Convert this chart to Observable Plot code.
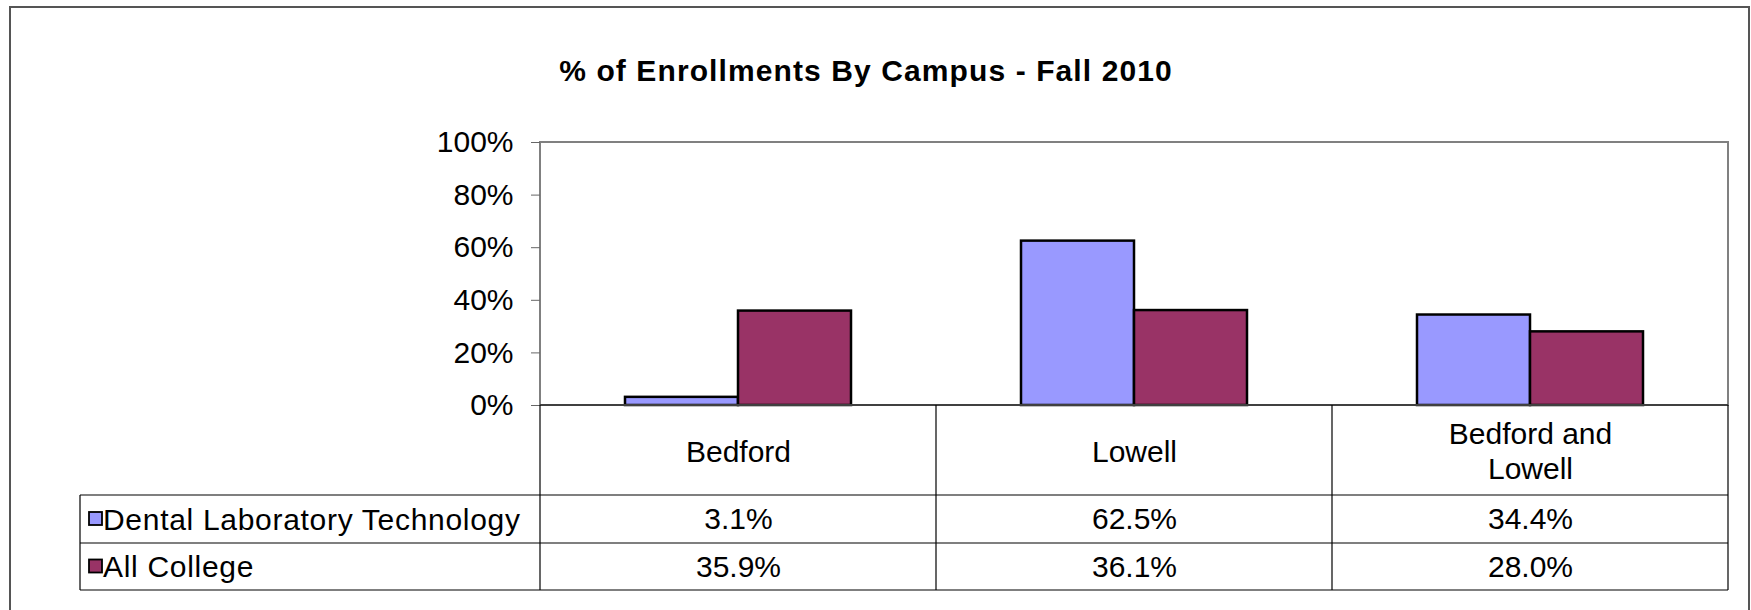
<!DOCTYPE html>
<html>
<head>
<meta charset="utf-8">
<script src="https://cdn.jsdelivr.net/npm/d3@7"></script>
<script src="https://cdn.jsdelivr.net/npm/@observablehq/plot@0.6"></script>
<style>
  html, body { margin: 0; padding: 0; background: #fff; }
  #page { position: relative; width: 1751px; height: 610px; overflow: hidden; font-family: "Liberation Sans", Arial, sans-serif; }
  #title { position: absolute; left: 0; top: 56px; width: 1732px; text-align: center; font-weight: bold; font-size: 30px; line-height: 30px; letter-spacing: 1.1px; color: #000; }
  #chart { position: absolute; left: 0; top: 100px; }
  #border { position: absolute; left: 9px; top: 6px; width: 1741px; height: 700px; border: 2px solid #555; box-sizing: border-box; pointer-events: none; z-index: 5; }
</style>
</head>
<body>
<div id="page">
  <div id="title"></div>
  <div id="chart"></div>
  <div id="border"></div>
</div>
<script>
// ---- data ----
const chartTitle = "% of Enrollments By Campus - Fall 2010";
const campuses = ["Bedford", "Lowell", "Bedford and Lowell"];
const campusLabels = ["Bedford", "Lowell", "Bedford and\nLowell"];
const series = ["Dental Laboratory Technology", "All College"];
const dentalLab = [3.1, 62.5, 34.4];
const allCollege = [35.9, 36.1, 28.0];
const yTicks = [0, 20, 40, 60, 80, 100];
const seriesColors = ["#9999ff", "#993366"];

const seriesValues = [dentalLab, allCollege];
const rows = campuses.flatMap((c, i) =>
  series.map((s, j) => ({campus: c, series: s, value: seriesValues[j][i]}))
);
const fmt = v => v.toFixed(1) + "%";
const FONT = "'Liberation Sans', Arial, sans-serif";

document.getElementById("title").textContent = chartTitle;

const plot = Plot.plot({
  width: 1751,
  height: 510,
  marginLeft: 540,
  marginRight: 23,
  marginTop: 42,
  marginBottom: 205,
  style: {fontFamily: FONT, fontSize: "30px", color: "#000", background: "none", overflow: "visible"},
  fx: {domain: campuses, padding: 0, axis: null},
  x: {domain: series, paddingInner: 0, paddingOuter: 0.75, axis: null},
  y: {domain: [0, 100], axis: null},
  color: {domain: series, range: seriesColors},
  marks: [
    Plot.axisY({ticks: yTicks, tickFormat: d => d + "%", tickSize: 9, tickPadding: 18,
                fontSize: 30, stroke: "#666", fill: "#000", label: null}),
    Plot.barY(rows, {fx: "campus", x: "series", y: "value", fill: "series",
                     stroke: "#000", strokeWidth: 2.5}),
    Plot.text(campuses, {fx: d => d, text: (d, i) => campusLabels[i], frameAnchor: "bottom",
                         dy: 45, lineAnchor: "middle", lineHeight: 1.15, fontSize: 30, fill: "#000"}),
    Plot.text(rows.filter(r => r.series === series[0]), {fx: "campus", text: d => fmt(d.value),
                         frameAnchor: "bottom", dy: 114, lineAnchor: "middle", fontSize: 30, fill: "#000"}),
    Plot.text(rows.filter(r => r.series === series[1]), {fx: "campus", text: d => fmt(d.value),
                         frameAnchor: "bottom", dy: 161.5, lineAnchor: "middle", fontSize: 30, fill: "#000"})
  ]
});

document.getElementById("chart").appendChild(plot);

// ---- frame, data table grid and legend keys, placed from Plot's scales ----
const fxS = plot.scale("fx"), yS = plot.scale("y"), colorS = plot.scale("color");
const [x0, x1] = fxS.range;
const yTop = yS.apply(100), yBase = yS.apply(0);
const headerBottom = yBase + 90;
const row1Bottom = headerBottom + 48;
const tableBottom = row1Bottom + 47;
const tableLeft = 80;

const svg = d3.select(plot);
const g = svg.insert("g", "g");
g.append("rect")
  .attr("x", x0).attr("y", yTop).attr("width", x1 - x0).attr("height", yBase - yTop)
  .attr("fill", "none").attr("stroke", "#808080").attr("stroke-width", 2);

const over = svg.append("g");
over.append("line").attr("x1", x0).attr("x2", x1).attr("y1", yBase).attr("y2", yBase)
  .attr("stroke", "#404040").attr("stroke-width", 2);

const edges = [x0, ...campuses.slice(1).map(c => fxS.apply(c)), x1];
edges.forEach(x => {
  over.append("line").attr("x1", x).attr("x2", x).attr("y1", yBase).attr("y2", tableBottom)
    .attr("stroke", "#000").attr("stroke-width", 1.2);
});
[headerBottom, row1Bottom, tableBottom].forEach(yy => {
  over.append("line").attr("x1", tableLeft).attr("x2", x1).attr("y1", yy).attr("y2", yy)
    .attr("stroke", "#000").attr("stroke-width", 1.2);
});
over.append("line").attr("x1", tableLeft).attr("x2", tableLeft).attr("y1", headerBottom).attr("y2", tableBottom)
  .attr("stroke", "#000").attr("stroke-width", 1.2);

const rowCenters = [(headerBottom + row1Bottom) / 2, (row1Bottom + tableBottom) / 2];
series.forEach((s, j) => {
  over.append("rect").attr("x", 89).attr("y", rowCenters[j] - 7).attr("width", 13).attr("height", 13)
    .attr("fill", colorS.apply(s)).attr("stroke", "#000").attr("stroke-width", 1.8);
  over.append("text").attr("x", 103).attr("y", rowCenters[j]).attr("dy", "0.35em")
    .attr("text-anchor", "start").attr("font-size", 30).attr("letter-spacing", "0.7px")
    .attr("fill", "#000").text(s);
});
</script>
</body>
</html>
